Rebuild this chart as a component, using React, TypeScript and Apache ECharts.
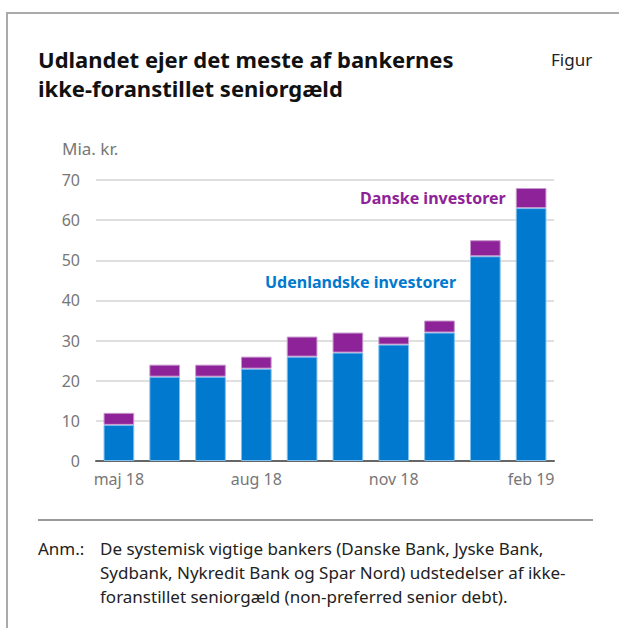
import React, { useEffect, useRef } from "react";
import * as echarts from "echarts";

const categories = ["maj 18", "jun 18", "jul 18", "aug 18", "sep 18", "okt 18", "nov 18", "dec 18", "jan 19", "feb 19"];
const udenlandske = [9, 21, 21, 23, 26, 27, 29, 32, 51, 63];
const danske = [3, 3, 3, 3, 5, 5, 2, 3, 4, 5];
const yTicks = [0, 10, 20, 30, 40, 50, 60, 70];

const FONT = "'Noto Sans', 'Open Sans', sans-serif";
const BLUE = "#0079CF";
const PURPLE = "#8E2299";

export default function App() {
  const ref = useRef<HTMLDivElement>(null);
  useEffect(() => {
    if (!ref.current) return;
    const chart = echarts.init(ref.current, null, { renderer: "svg" });
    chart.setOption({
      animation: false,
      textStyle: { fontFamily: FONT },
      grid: { left: 96, right: 65, top: 180, bottom: 167 },
      xAxis: {
        type: "category",
        data: categories,
        axisTick: { show: false },
        axisLine: { lineStyle: { color: "#666", width: 2 } },
        axisLabel: { interval: 2, color: "#777", fontSize: 16, margin: 10, fontFamily: FONT },
      },
      yAxis: {
        type: "value",
        min: yTicks[0],
        max: yTicks[yTicks.length - 1],
        interval: 10,
        axisLabel: { color: "#777", fontSize: 16, margin: 16, fontFamily: FONT },
        splitLine: { lineStyle: { color: "#d4d4d4", width: 1.5 } },
        axisLine: { show: false },
        axisTick: { show: false },
      },
      series: [
        {
          type: "bar",
          name: "Udenlandske investorer",
          stack: "a",
          data: udenlandske,
          barWidth: "67%",
          itemStyle: { color: BLUE, borderColor: "#7fc0ef", borderWidth: 1 },
        },
        {
          type: "bar",
          name: "Danske investorer",
          stack: "a",
          data: danske,
          barWidth: "67%",
          itemStyle: { color: PURPLE, borderColor: "#c79acc", borderWidth: 1 },
        },
      ],
      graphic: [
        { type: "line", shape: { x1: 6, y1: 13, x2: 619, y2: 13 }, style: { stroke: "#aaa", lineWidth: 2 } },
        { type: "line", shape: { x1: 7, y1: 12, x2: 7, y2: 628 }, style: { stroke: "#aaa", lineWidth: 2 } },
        {
          type: "text",
          left: 38,
          top: 44,
          style: {
            text: "Udlandet ejer det meste af bankernes\nikke-foranstillet seniorgæld",
            font: `bold 22px ${FONT}`,
            fill: "#111",
            lineHeight: 29,
          },
        },
        { type: "text", left: 551, top: 51, style: { text: "Figur", font: `17px ${FONT}`, fill: "#222" } },
        { type: "text", left: 62, top: 140, style: { text: "Mia. kr.", font: `17px ${FONT}`, fill: "#777" } },
        {
          type: "text",
          left: 360,
          top: 190,
          style: { text: "Danske investorer", font: `bold 16px ${FONT}`, fill: PURPLE },
        },
        {
          type: "text",
          left: 265,
          top: 274,
          style: { text: "Udenlandske investorer", font: `bold 16px ${FONT}`, fill: BLUE },
        },
        { type: "line", shape: { x1: 38, y1: 520, x2: 593, y2: 520 }, style: { stroke: "#999", lineWidth: 2 } },
        { type: "text", left: 38, top: 536, style: { text: "Anm.:", font: `17px ${FONT}`, fill: "#222", lineHeight: 24 } },
        {
          type: "text",
          left: 100,
          top: 536,
          style: {
            text: "De systemisk vigtige bankers (Danske Bank, Jyske Bank,\nSydbank, Nykredit Bank og Spar Nord) udstedelser af ikke-\nforanstillet seniorgæld (non-preferred senior debt).",
            font: `17px ${FONT}`,
            fill: "#222",
            lineHeight: 24,
          },
        },
      ],
    });
    return () => chart.dispose();
  }, []);
  return (
    <div
      ref={ref}
      style={{ position: "fixed", left: 0, top: 0, width: 619, height: 628, background: "#fff" }}
    />
  );
}
